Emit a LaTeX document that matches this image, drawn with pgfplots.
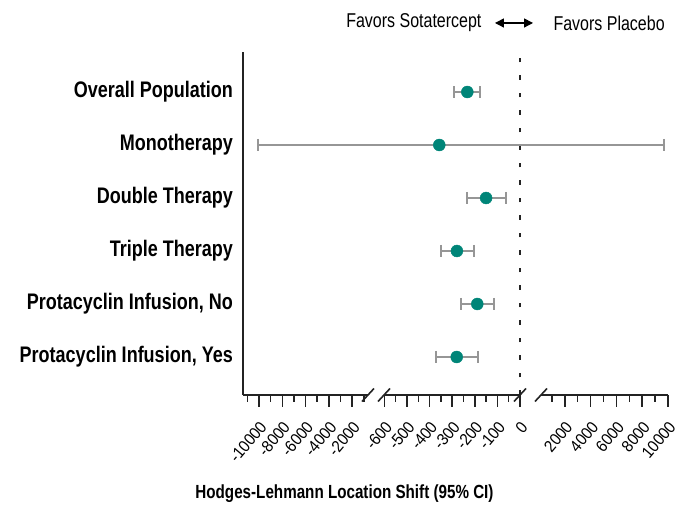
\documentclass[border=0pt]{standalone}
\usepackage{fontspec}
\setmainfont{Liberation Sans}[FakeStretch=0.85]
\newfontfamily\narrow{Liberation Sans}[FakeStretch=0.8]
\newfontfamily\ticknarrow{Liberation Sans}[FakeStretch=0.92]
\usepackage{pgfplots}
\pgfplotsset{compat=1.18}
\usetikzlibrary{arrows.meta}
\definecolor{axisc}{RGB}{35,35,35}
\definecolor{cigray}{RGB}{150,150,150}
\definecolor{tealdot}{RGB}{0,133,120}
\begin{document}
\begin{tikzpicture}
\begin{axis}[
  scale only axis, width=425pt, height=343pt,
  xmin=-11373, xmax=10000, ymin=0.283, ymax=6.755,
  x coord trafo/.code={\pgfmathparse{((#1)<-600)*(375.5+0.01165*(#1))+((#1)>=-600)*((#1)<=0)*(520+0.226*(#1))+((#1)>0)*(539+0.0129*(#1))}},
  axis lines=left,
  axis line style={-, line width=1.8pt, draw=axisc},
  x axis line style={draw=none},
  clip=false,
  tick align=outside,
  major tick length=12pt, minor tick length=7pt,
  xtick={-10000,-8000,-6000,-4000,-2000,-600,-500,-400,-300,-200,-100,0,2000,4000,6000,8000,10000},
  minor xtick={-11000,-9000,-7000,-5000,-3000,-1000,-550,-450,-350,-250,-150,-50,1000,3000,5000,7000,9000},
  xticklabels={-10000,-8000,-6000,-4000,-2000,-600,-500,-400,-300,-200,-100,0,2000,4000,6000,8000,10000},
  xtick style={line width=1.5pt, draw=axisc},
  minor tick style={line width=1.5pt, draw=axisc},
  xticklabel style={font=\ticknarrow\fontsize{16.5}{18}\selectfont, xshift=5pt, yshift=-16pt, rotate=50, anchor=east, inner sep=1pt},
  ytick={1,2,3,4,5,6},
  yticklabels={{Protacyclin Infusion, Yes},{Protacyclin Infusion, No},{Triple Therapy},{Double Therapy},{Monotherapy},{Overall Population}},
  ytick style={draw=none},
  yticklabel style={font=\narrow\bfseries\fontsize{22.5}{25}\selectfont, anchor=east, inner sep=0pt, xshift=2pt},
  xlabel={Hodges-Lehmann Location Shift (95\% CI)},
  xlabel style={font=\narrow\bfseries\fontsize{19}{21}\selectfont, at={(rel axis cs:0.2388,0)}, anchor=center, yshift=-99pt},
]
% zero line
\addplot[axisc, line width=2.6pt, dash pattern=on 4.5pt off 13pt] coordinates {(0,0.283) (0,6.755)};
% confidence intervals
\pgfplotsset{cistyle/.style={cigray, line width=2.7pt, mark=|, mark size=6pt, mark options={line width=2.2pt, cigray}}}
\addplot[cistyle] coordinates {(-291,6) (-177,6)};
\addplot[cistyle] coordinates {(-10090,5) (9710,5)};
\addplot[cistyle] coordinates {(-233,4) (-63,4)};
\addplot[cistyle] coordinates {(-351,3) (-204,3)};
\addplot[cistyle] coordinates {(-261,2) (-115,2)};
\addplot[cistyle] coordinates {(-373,1) (-185,1)};
% point estimates
\addplot[only marks, mark=*, mark size=6pt, mark options={fill=tealdot, draw=tealdot}] coordinates {
  (-233,6) (-357,5) (-150,4) (-279,3) (-189,2) (-280,1)};
% broken x axis
\draw[axisc, line width=1.8pt] (rel axis cs:0,0) -- (rel axis cs:0.2941,0);
\draw[axisc, line width=1.8pt] (rel axis cs:0.3318,0) -- (rel axis cs:0.6518,0);
\draw[axisc, line width=1.8pt] (rel axis cs:0.7012,0) -- (rel axis cs:1,0);
\draw[axisc, line width=1.6pt] ([shift={(-6pt,-6.5pt)}]rel axis cs:0.2941,0) -- ++(12pt,13pt);
\draw[axisc, line width=1.6pt] ([shift={(-6pt,-6.5pt)}]rel axis cs:0.3318,0) -- ++(12pt,13pt);
\draw[axisc, line width=1.6pt] ([shift={(-6pt,-6.5pt)}]rel axis cs:0.6518,0) -- ++(12pt,13pt);
\draw[axisc, line width=1.6pt] ([shift={(-6pt,-6.5pt)}]rel axis cs:0.7012,0) -- ++(12pt,13pt);
% header
\node[font=\narrow\fontsize{20}{22}\selectfont, anchor=east] at ([yshift=29pt]rel axis cs:0.5694,1) {Favors Sotatercept};
\node[font=\narrow\fontsize{20}{22}\selectfont, anchor=west] at ([yshift=29pt]rel axis cs:0.7224,1) {Favors Placebo};
\draw[{Triangle[length=9pt,width=9pt]}-{Triangle[length=9pt,width=9pt]}, line width=1.4pt, black] ([yshift=29pt]rel axis cs:0.5929,1) -- ([yshift=29pt]rel axis cs:0.6824,1);
\coordinate (BL) at (rel axis cs:0,0);
\end{axis}
\pgfresetboundingbox
\path ([shift={(-243pt,-115pt)}]BL) rectangle ++(678pt,510pt);
\end{tikzpicture}
\end{document}
